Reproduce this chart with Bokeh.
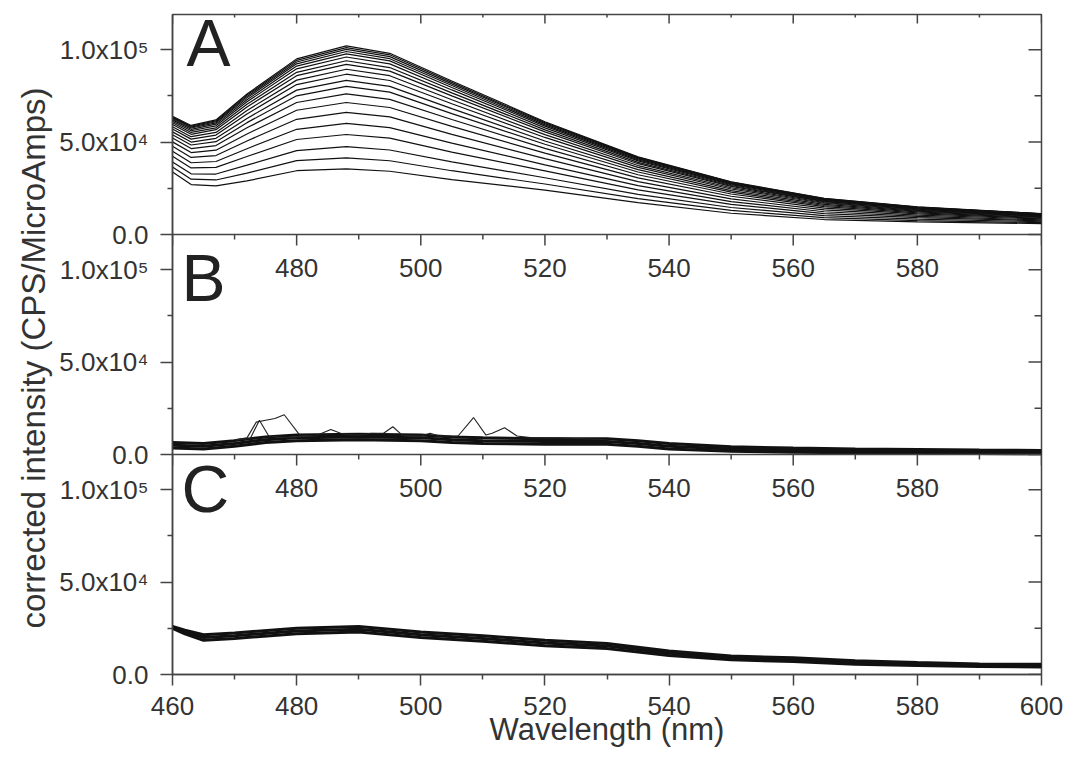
from bokeh.plotting import figure
from bokeh.models import Range1d, FixedTicker, Span, Title
from bokeh.embed import file_html
from bokeh.resources import INLINE
from bokeh.core.properties import value

# ---------------- data (intensity values in thousands of CPS/MicroAmps) ----------------
x_ticks = [460, 480, 500, 520, 540, 560, 580, 600]
x_minor = [470, 490, 510, 530, 550, 570, 590]
inner_x_labels = [480, 500, 520, 540, 560, 580]
y_ticks = [0, 50000, 100000]
y_minor = [25000, 75000]
y_tick_labels = ["0.0", "5.0x10\u2074", "1.0x10\u2075"]
panel_letters = ["A", "B", "C"]

# Panel A: family of emission spectra (bottom to top)
wl_A = [460, 463, 467, 472, 480, 488, 495, 505, 520, 535, 550, 565, 580, 600]
A_curves_k = [
    [33.8, 27.0, 26.3, 29.0, 34.5, 35.5, 34.2, 29.7, 24.0, 17.2, 11.5, 8.1, 6.8, 5.9],
    [36.5, 29.9, 29.5, 33.2, 40.0, 41.5, 39.9, 34.5, 27.3, 19.4, 13.0, 9.1, 7.5, 6.4],
    [39.2, 32.8, 32.7, 37.5, 45.4, 47.5, 45.7, 39.3, 30.7, 21.7, 14.6, 10.2, 8.3, 6.9],
    [42.3, 36.0, 36.3, 42.2, 51.4, 54.1, 52.1, 44.6, 34.4, 24.1, 16.3, 11.3, 9.1, 7.4],
    [45.0, 38.8, 39.5, 46.4, 56.9, 60.1, 57.8, 49.4, 37.7, 26.4, 17.8, 12.3, 9.8, 7.9],
    [47.7, 41.7, 42.7, 50.6, 62.3, 66.1, 63.6, 54.2, 41.0, 28.6, 19.3, 13.3, 10.5, 8.4],
    [50.1, 44.3, 45.6, 54.4, 67.2, 71.4, 68.7, 58.5, 44.0, 30.6, 20.7, 14.3, 11.2, 8.8],
    [52.2, 46.5, 48.1, 57.7, 71.4, 76.1, 73.1, 62.2, 46.6, 32.3, 21.9, 15.1, 11.7, 9.2],
    [54.0, 48.4, 50.2, 60.5, 75.0, 80.1, 77.0, 65.4, 48.8, 33.8, 22.9, 15.7, 12.2, 9.5],
    [55.5, 50.0, 52.0, 62.8, 78.1, 83.4, 80.1, 68.1, 50.6, 35.1, 23.7, 16.3, 12.6, 9.8],
    [57.1, 51.6, 53.8, 65.2, 81.1, 86.7, 83.3, 70.7, 52.5, 36.3, 24.6, 16.9, 13.0, 10.1],
    [58.3, 52.9, 55.2, 67.1, 83.5, 89.4, 85.9, 72.9, 54.0, 37.3, 25.3, 17.3, 13.4, 10.3],
    [59.5, 54.2, 56.7, 69.0, 85.9, 92.0, 88.4, 75.0, 55.5, 38.3, 26.0, 17.8, 13.7, 10.5],
    [60.4, 55.2, 57.7, 70.4, 87.7, 94.0, 90.3, 76.6, 56.6, 39.0, 26.5, 18.1, 13.9, 10.7],
    [61.3, 56.1, 58.8, 71.8, 89.6, 96.0, 92.3, 78.2, 57.7, 39.8, 27.0, 18.5, 14.2, 10.8],
    [62.0, 56.9, 59.7, 72.9, 91.1, 97.7, 93.9, 79.5, 58.6, 40.4, 27.4, 18.8, 14.4, 11.0],
    [62.6, 57.6, 60.4, 73.9, 92.3, 99.0, 95.1, 80.6, 59.3, 40.9, 27.7, 19.0, 14.5, 11.1],
    [63.2, 58.1, 61.0, 74.7, 93.3, 100.1, 96.2, 81.5, 60.0, 41.3, 28.0, 19.2, 14.7, 11.2],
    [63.6, 58.6, 61.5, 75.4, 94.2, 101.1, 97.2, 82.3, 60.5, 41.7, 28.3, 19.4, 14.8, 11.2],
    [64.0, 59.0, 62.0, 76.0, 95.0, 102.0, 98.0, 83.0, 61.0, 42.0, 28.5, 19.5, 14.9, 11.3],
]

# Panel B: overlapping low spectra (band) plus two noisy traces
wl_B = [460, 465, 470, 475, 480, 490, 500, 505, 510, 520, 530, 535, 540, 550, 560, 570, 580, 590, 600]
B_band_k = [
    [3.5, 3.0, 4.5, 6.5, 7.5, 8.0, 7.5, 6.5, 6.0, 5.5, 5.5, 4.5, 3.0, 1.8, 1.2, 0.9, 0.7, 0.5, 0.4],
    [5.0, 4.5, 6.0, 8.0, 9.0, 9.5, 9.0, 8.0, 7.5, 7.0, 7.0, 6.0, 4.5, 3.0, 2.4, 2.0, 1.7, 1.4, 1.2],
    [6.5, 6.0, 7.5, 9.5, 10.5, 11.0, 10.5, 9.5, 9.0, 8.5, 8.5, 7.5, 6.0, 4.2, 3.5, 3.0, 2.7, 2.4, 2.2],
]
wl_Bn1 = [470, 472, 473.5, 475, 476.5, 478, 480.5, 483, 485.5, 487.5, 490, 492, 494, 495.5, 497,
          500, 501.5, 503, 506, 508.5, 510.5, 511.5, 513.5, 515.5, 518, 522, 526, 530]
Bn1_k = [8.0, 9.0, 17.5, 18.5, 19.5, 21.5, 10.5, 10.0, 13.5, 11.0, 10.5, 11.5, 11.5, 15.0, 10.5,
         10.0, 11.5, 10.0, 10.0, 20.0, 10.5, 11.5, 14.5, 10.0, 9.0, 9.0, 8.5, 8.0]
wl_Bn2 = [470, 472.5, 474, 475.5, 477, 480]
Bn2_k = [8.0, 8.5, 18.5, 10.0, 9.5, 9.0]

# Panel C: overlapping spectra (band)
wl_C = [460, 462, 465, 470, 480, 490, 500, 510, 520, 530, 540, 550, 560, 570, 580, 590, 600]
C_band_k = [
    [25.0, 22.0, 18.5, 19.5, 22.0, 23.0, 20.0, 18.0, 15.5, 14.0, 10.3, 8.0, 7.0, 5.6, 4.9, 4.3, 4.1],
    [25.5, 23.0, 20.0, 21.0, 23.5, 24.5, 21.5, 19.5, 17.0, 15.4, 11.5, 9.0, 8.0, 6.5, 5.7, 5.0, 4.8],
    [26.0, 24.0, 21.5, 22.5, 25.0, 26.0, 23.0, 21.0, 18.5, 16.8, 12.7, 10.0, 9.0, 7.4, 6.5, 5.7, 5.5],
]

# ---------------- figure ----------------
FONT = "Liberation Sans"
TXT = "#333333"
AX = "#444444"
H = 119000  # span of each stacked panel
x_lo, x_hi = x_ticks[0], x_ticks[-1]

p = figure(frame_width=869, frame_height=660,
           min_border_left=172, min_border_right=23, min_border_top=14, min_border_bottom=80,
           x_range=Range1d(x_lo, x_hi), y_range=Range1d(0, 3 * H),
           output_backend="svg", toolbar_location=None)
p.extra_y_ranges = {"A": Range1d(-2 * H, H), "B": Range1d(-H, 2 * H)}
p.xgrid.visible = False
p.ygrid.visible = False
p.outline_line_color = AX
p.outline_line_width = 1.5
p.background_fill_color = "white"
p.border_fill_color = "white"

# left axis: each stacked panel has its own 0 / 5e4 / 1e5 ticks
yt, ym, overrides = [], [], {}
for k in range(3):
    for t, lab in zip(y_ticks, y_tick_labels):
        yt.append(k * H + t)
        overrides[k * H + t] = lab
    for m in y_minor:
        ym.append(k * H + m)
ya = p.yaxis[0]
ya.ticker = FixedTicker(ticks=yt, minor_ticks=ym)
ya.major_label_overrides = overrides
ya.major_tick_out = 12
ya.major_tick_in = 0
ya.minor_tick_out = 5
ya.minor_tick_in = 0
ya.major_label_standoff = 12
ya.major_label_text_font = FONT
ya.major_label_text_font_size = "26px"
ya.major_label_text_color = TXT
ya.axis_line_color = AX
ya.axis_line_width = 1.5
ya.major_tick_line_color = AX
ya.major_tick_line_width = 1.5
ya.minor_tick_line_color = AX
ya.minor_tick_line_width = 1.5

# bottom axis
xa = p.xaxis[0]
xa.ticker = FixedTicker(ticks=x_ticks, minor_ticks=x_minor)
xa.major_tick_out = 11
xa.major_tick_in = 0
xa.minor_tick_out = 5
xa.minor_tick_in = 0
xa.major_label_standoff = 11
xa.major_label_text_font = FONT
xa.major_label_text_font_size = "26px"
xa.major_label_text_color = TXT
xa.axis_line_color = AX
xa.axis_line_width = 1.5
xa.major_tick_line_color = AX
xa.major_tick_line_width = 1.5
xa.minor_tick_line_color = AX
xa.minor_tick_line_width = 1.5
xa.axis_label = "Wavelength (nm)"
xa.axis_label_text_font = FONT
xa.axis_label_text_font_size = "31px"
xa.axis_label_text_font_style = "normal"
xa.axis_label_text_color = TXT
xa.axis_label_standoff = -6

# y-axis title spanning the panels
p.add_layout(Title(text="corrected intensity (CPS/MicroAmps)", align="left", offset=46,
                   text_font=FONT, text_font_size="33px", text_font_style="normal",
                   text_color=TXT), "left")

tick_style = dict(length_units="screen", angle_units="deg", line_color=AX, line_width=1.5)

# right side ticks (inward)
p.ray(x=[x_hi] * len(yt), y=yt, length=13, angle=180, **tick_style)
p.ray(x=[x_hi] * len(ym), y=ym, length=7, angle=180, **tick_style)
# top ticks of panel A (inward)
p.ray(x=x_ticks, y=[H] * len(x_ticks), length=9, angle=-90, y_range_name="A", **tick_style)
p.ray(x=x_minor, y=[H] * len(x_minor), length=3, angle=-90, y_range_name="A", **tick_style)

# panel separators (bottom axes of A and B) with downward ticks and labels
for rn in ["A", "B"]:
    p.add_layout(Span(location=0, dimension="width", y_range_name=rn, line_color=AX, line_width=1.5))
    p.ray(x=x_ticks, y=[0] * len(x_ticks), length=11, angle=-90, y_range_name=rn, **tick_style)
    p.ray(x=x_minor, y=[0] * len(x_minor), length=5, angle=-90, y_range_name=rn, **tick_style)
    p.text(x=inner_x_labels, y=[0] * len(inner_x_labels), text=[str(v) for v in inner_x_labels],
           y_range_name=rn, y_offset=33, text_align="center", text_baseline="alphabetic",
           text_font=value(FONT), text_font_size="26px", text_color=TXT)

# curves
for row in A_curves_k:
    p.line(wl_A, [v * 1000 for v in row], y_range_name="A", line_color="#111111", line_width=1.2)
for row in B_band_k:
    p.line(wl_B, [v * 1000 for v in row], y_range_name="B", line_color="#111111", line_width=3)
p.line(wl_Bn1, [v * 1000 for v in Bn1_k], y_range_name="B", line_color="#222222", line_width=1.1)
p.line(wl_Bn2, [v * 1000 for v in Bn2_k], y_range_name="B", line_color="#222222", line_width=1.1)
for row in C_band_k:
    p.line(wl_C, [v * 1000 for v in row], line_color="#111111", line_width=3)

# panel letters
letter_offsets = {"A": (14, 28), "B": (9, 43), "C": (9, 34)}
for letter, rn in zip(panel_letters, ["A", "B", "default"]):
    dx, dy = letter_offsets[letter]
    p.text(x=[x_lo], y=[H], text=[letter], y_range_name=rn, x_offset=dx, y_offset=dy,
           text_align="left", text_baseline="alphabetic", text_font=value(FONT),
           text_font_size="66px", text_color="#222222")

open("out.html", "w").write(file_html(p, INLINE))
